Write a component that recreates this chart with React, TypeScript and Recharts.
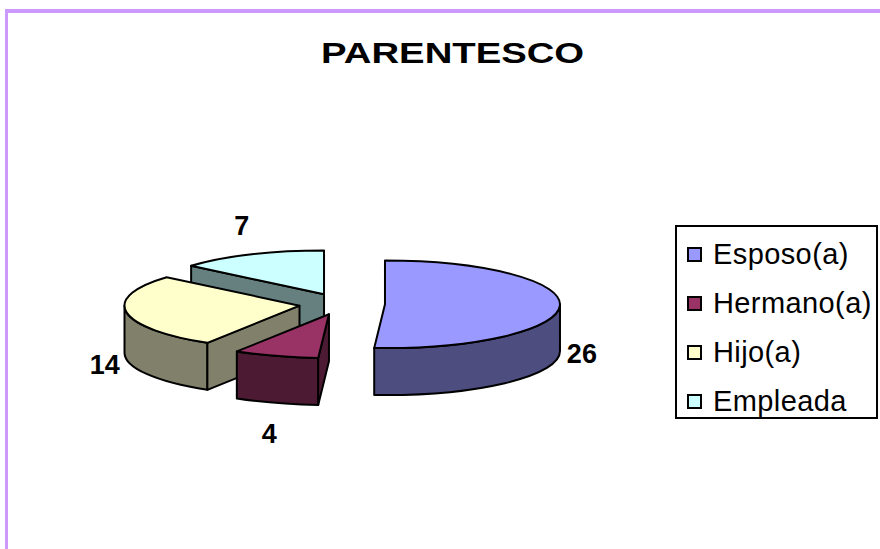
import { Legend, Pie, PieChart } from 'recharts';

const NAMES = ['Esposo(a)', 'Hermano(a)', 'Hijo(a)', 'Empleada'];
const VALUES = [26, 4, 14, 7];
const TOP_COLORS = ['#9999ff', '#993366', '#ffffcc', '#ccffff'];
const SIDE_COLORS = ['#4d4d80', '#4d1a33', '#80806b', '#668080'];
// back-to-front drawing order for the exploded 3D slices
const DRAW_ORDER = [3, 0, 2, 1];

const FONT = '"Liberation Sans", Arial, sans-serif';
const CX = 342;
const CY = 304;
const R = 175;
const TILT = 0.25;
const DEPTH = 47;
const EXPLODE = 43;
const RAD = Math.PI / 180;

const data = NAMES.map((name, i) => ({ name, value: VALUES[i], idx: i }));

function ept(x: number, y: number, rx: number, ry: number, a: number): [number, number] {
  return [x + rx * Math.cos(a * RAD), y - ry * Math.sin(a * RAD)];
}

function Slice3D(props: any) {
  const { cx, cy, outerRadius, startAngle: s, endAngle: e, only } = props;
  const idx = props.idx ?? props.payload?.idx;
  if (idx !== only) return <g />;
  const mid = props.midAngle ?? (s + e) / 2;
  const ox = cx + EXPLODE * Math.cos(mid * RAD);
  const oy = cy - EXPLODE * Math.sin(mid * RAD) * TILT;
  const rx = outerRadius;
  const ry = outerRadius * TILT;
  const p = (a: number, d = 0) => {
    const [x, y] = ept(ox, oy, rx, ry, a);
    return `${x},${y + d}`;
  };
  const edge = { stroke: '#000', strokeWidth: 2, strokeLinejoin: 'round' as const };
  const parts = [];

  // outer wall, only the part facing the viewer
  const hi = Math.min(s, 0);
  const lo = Math.max(e, -180);
  if (hi > lo) {
    parts.push(
      <path
        key="wall"
        d={`M${p(hi)} A${rx},${ry} 0 0 1 ${p(lo)} L${p(lo, DEPTH)} A${rx},${ry} 0 0 0 ${p(hi, DEPTH)} Z`}
        fill={SIDE_COLORS[idx]}
        {...edge}
      />,
    );
  }
  // radial faces
  if (Math.cos(s * RAD) < -0.01) {
    parts.push(
      <path key="sf" d={`M${ox},${oy} L${p(s)} L${p(s, DEPTH)} L${ox},${oy + DEPTH} Z`} fill={SIDE_COLORS[idx]} {...edge} />,
    );
  }
  if (Math.cos(e * RAD) > 0.01) {
    parts.push(
      <path key="ef" d={`M${ox},${oy} L${p(e)} L${p(e, DEPTH)} L${ox},${oy + DEPTH} Z`} fill={SIDE_COLORS[idx]} {...edge} />,
    );
  }
  const large = s - e > 180 ? 1 : 0;
  parts.push(
    <path key="top" d={`M${ox},${oy} L${p(s)} A${rx},${ry} 0 ${large} 1 ${p(e)} Z`} fill={TOP_COLORS[idx]} {...edge} />,
  );
  return <g>{parts}</g>;
}

function renderLabel(props: any) {
  const { cx, cy, midAngle, outerRadius, value } = props;
  const dx = Math.cos(midAngle * RAD);
  const dy = -Math.sin(midAngle * RAD);
  const sx = cx + EXPLODE * dx;
  const sy = cy + EXPLODE * dy * TILT;
  const x = sx + dx * (outerRadius + 22);
  const y = sy + dy * (outerRadius * TILT + 32) + (dy >= 0 ? DEPTH : 0);
  return (
    <text x={x} y={y} dy="0.36em" textAnchor="middle" fontFamily={FONT} fontSize={27} fontWeight="bold" fill="#000">
      {value}
    </text>
  );
}

function renderLegend(props: any) {
  const inPayload = new Set((props.payload ?? []).map((p: any) => String(p.value)));
  const items = inPayload.size ? NAMES.filter((n) => inPayload.has(n)) : NAMES;
  return (
    <div
      style={{
        width: 203,
        height: 194,
        boxSizing: 'border-box',
        border: '2px solid #000',
        background: '#fff',
        paddingTop: 3,
        fontFamily: FONT,
        fontSize: 29,
        letterSpacing: 0.4,
        color: '#000',
      }}
    >
      {items.map((name) => (
        <div key={name} style={{ height: 49, lineHeight: '49px', display: 'flex', alignItems: 'center' }}>
          <span
            style={{
              flex: 'none',
              marginLeft: 10,
              marginRight: 11,
              width: 15,
              height: 15,
              boxSizing: 'border-box',
              border: '2px solid #000',
              background: TOP_COLORS[NAMES.indexOf(name)],
            }}
          />
          <span style={{ whiteSpace: 'nowrap' }}>{name}</span>
        </div>
      ))}
    </div>
  );
}

export default function App() {
  return (
    <div style={{ position: 'absolute', left: 0, top: 0, width: 880, height: 549, overflow: 'hidden', background: '#fff' }}>
      <div style={{ position: 'absolute', left: 5, top: 9, width: 900, height: 4, background: '#cc99ff' }} />
      <div style={{ position: 'absolute', left: 5, top: 9, width: 3, height: 600, background: '#cc99ff' }} />
      <PieChart width={880} height={549} margin={{ top: 0, right: 0, bottom: 0, left: 0 }} style={{ position: 'absolute', left: 0, top: 0 }}>
        {DRAW_ORDER.map((only, layer) => (
          <Pie
            key={only}
            data={data}
            dataKey="value"
            nameKey="name"
            cx={CX}
            cy={CY}
            outerRadius={R}
            startAngle={90}
            endAngle={-270}
            stroke="none"
            isAnimationActive={false}
            legendType={layer === 0 ? 'square' : 'none'}
            shape={(p: any) => <Slice3D {...p} only={only} />}
            label={layer === DRAW_ORDER.length - 1 ? renderLabel : false}
            labelLine={false}
          />
        ))}
        <Legend
          layout="vertical"
          align="right"
          verticalAlign="middle"
          content={renderLegend}
          wrapperStyle={{ left: 675, top: 225, right: 'auto', bottom: 'auto', width: 203, height: 194 }}
        />
      </PieChart>
      <div
        style={{
          position: 'absolute',
          left: 153,
          top: 39,
          width: 600,
          textAlign: 'center',
          fontFamily: FONT,
          fontSize: 29,
          lineHeight: '29px',
          fontWeight: 'bold',
        }}
      >
        <span style={{ display: 'inline-block', transform: 'scaleX(1.32)' }}>PARENTESCO</span>
      </div>
    </div>
  );
}
